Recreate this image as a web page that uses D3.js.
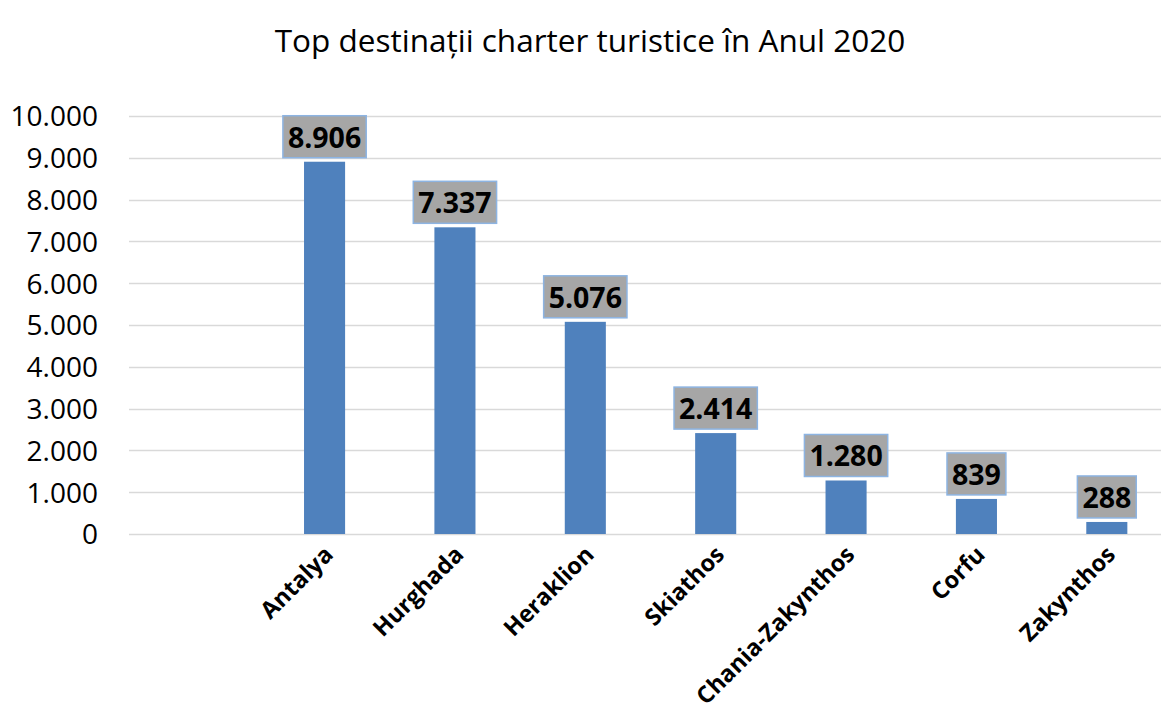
<!DOCTYPE html>
<html>
<head>
<meta charset="utf-8">
<script src="https://cdn.jsdelivr.net/npm/d3@7"></script>
<style>
  html, body { margin: 0; padding: 0; background: #fff; }
  svg { display: block; }
</style>
</head>
<body>
<svg id="chart" width="1161" height="720"></svg>
<script>
const title = "Top destinații charter turistice în Anul 2020";
const categories = ["", "Antalya", "Hurghada", "Heraklion", "Skiathos", "Chania-Zakynthos", "Corfu", "Zakynthos"];
const values = [null, 8906, 7337, 5076, 2414, 1280, 839, 288];
const yTicks = [0, 1000, 2000, 3000, 4000, 5000, 6000, 7000, 8000, 9000, 10000];

const fmt = v => d3.format(",")(v).replace(/,/g, ".");
const data = categories.map((c, i) => ({ c, v: values[i] }));

const svg = d3.select("#chart");
const plot = { left: 129, right: 1172, top: 116, bottom: 534 };

const x = d3.scaleBand().domain(categories).range([plot.left, plot.right]).paddingInner(0).paddingOuter(0);
const y = d3.scaleLinear().domain([0, 10000]).range([plot.bottom, plot.top]);
const barW = x.step() * 0.315;

// title
svg.append("text")
  .attr("x", 590).attr("y", 52)
  .attr("text-anchor", "middle")
  .style("font-family", "'Open Sans', sans-serif")
  .style("font-size", "31.5px")
  .style("fill", "#000")
  .text(title);

// gridlines
svg.append("g").selectAll("line").data(yTicks).join("line")
  .attr("x1", plot.left).attr("x2", plot.right)
  .attr("y1", d => Math.round(y(d)) + 0.5).attr("y2", d => Math.round(y(d)) + 0.5)
  .attr("stroke", "#D9D9D9").attr("stroke-width", 1.5);

// y axis labels
const yAxis = d3.axisLeft(y).tickValues(yTicks).tickFormat(fmt).tickSize(0).tickPadding(0);
const gy = svg.append("g").attr("transform", `translate(98,0)`).call(yAxis);
gy.select(".domain").remove();
gy.selectAll("text")
  .style("font-family", "'Open Sans', sans-serif")
  .style("font-size", "28px")
  .style("fill", "#000")
  .attr("dy", "0.35em");

// bars
const bd = data.filter(d => d.v != null);
svg.append("g").selectAll("rect").data(bd).join("rect")
  .attr("x", d => x(d.c) + (x.bandwidth() - barW) / 2)
  .attr("width", barW)
  .attr("y", d => y(d.v))
  .attr("height", d => y(0) - y(d.v))
  .attr("fill", "#4F81BD");

// data labels
const lg = svg.append("g").selectAll("g").data(bd).join("g")
  .attr("transform", d => `translate(${x(d.c) + x.bandwidth() / 2},${y(d.v) - 4})`);
lg.each(function(d) {
  const g = d3.select(this);
  const t = g.append("text")
    .attr("text-anchor", "middle")
    .attr("y", -10)
    .style("font-family", "'Open Sans', sans-serif")
    .style("font-size", "28.5px")
    .style("font-weight", "bold")
    .style("fill", "#000")
    .text(fmt(d.v));
  const w = t.node().getComputedTextLength();
  g.insert("rect", "text")
    .attr("x", -w / 2 - 5).attr("y", -42)
    .attr("width", w + 10).attr("height", 42)
    .attr("fill", "#A6A6A6")
    .attr("stroke", "#8DB4E2").attr("stroke-width", 1.5);
});

// x axis labels
const xAxis = d3.axisBottom(x).tickSize(0).tickPadding(0);
const gx = svg.append("g").attr("transform", `translate(0,${plot.bottom})`).call(xAxis);
gx.select(".domain").remove();
gx.selectAll("text")
  .attr("text-anchor", "end")
  .attr("dy", 0)
  .attr("transform", "translate(10,22) rotate(-45)")
  .style("font-family", "'Open Sans', sans-serif")
  .style("font-size", "23.5px")
  .style("font-weight", "bold")
  .style("fill", "#000");
</script>
</body>
</html>
